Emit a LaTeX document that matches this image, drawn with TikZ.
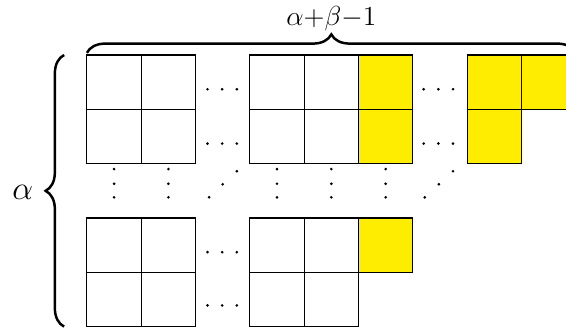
\documentclass[tikz,border=0pt]{standalone}
\usetikzlibrary{decorations.pathreplacing}
\definecolor{boxyellow}{RGB}{255,237,0}

\begin{document}
\begin{tikzpicture}[
    % Style for the plain cells
    cell/.style={
        draw=black,
        line width=0.6pt,
        fill=white
    },
    % Style for the marked (yellow) cells
    hcell/.style={
        cell,
        fill=boxyellow
    },
    % Style for the braces
    brc/.style={
        decorate,
        decoration={brace, amplitude=0.34cm},
        line width=1.3pt
    }
]
\useasboundingbox (-1.60,-5.08) rectangle (8.82,1.013);

% --- White cells ---
\foreach \x in {0,1,3,4}
    \foreach \y in {0,-1,-3,-4}
        \draw[cell] (\x,\y) rectangle ++(1,-1);

% --- Yellow cells ---
\foreach \x/\y in {5/0, 5/-1, 7/0, 7/-1, 8/0, 5/-3}
    \draw[hcell] (\x,\y) rectangle ++(1,-1);

% --- Horizontal dots ---
% top rows: two groups
\foreach \y in {-0.63,-1.63}
    \foreach \x in {2.22,2.49,2.76,6.20,6.47,6.74}
        \fill (\x,\y) circle (0.027);
% bottom rows: one group
\foreach \y in {-3.63,-4.61}
    \foreach \x in {2.22,2.49,2.76}
        \fill (\x,\y) circle (0.027);

% --- Vertical dots ---
\foreach \x in {0.5,1.5,3.5,4.5,5.5}
    \foreach \y in {-2.10,-2.37,-2.62}
        \fill (\x,\y) circle (0.027);

% --- Diagonal dots ---
\foreach \x/\y in {2.25/-2.62, 2.50/-2.38, 2.76/-2.14, 6.22/-2.62, 6.48/-2.38, 6.74/-2.14}
    \fill (\x,\y) circle (0.027);

% --- Braces and their labels ---
\coordinate (topL) at (0,0.04);
\coordinate (topR) at (9,0.04);
\draw[brc] (topL) -- (topR);
\node[anchor=base, font=\Large] (width) at (4.5,0.55) {$\alpha{+}\beta{-}1$};

\coordinate (sideB) at (-0.42,-5);
\coordinate (sideT) at (-0.42,0);
\draw[brc] (sideB) -- (sideT);
\node[font=\LARGE] (height) at (-1.18,-2.52) {$\alpha$};

\end{tikzpicture}
\end{document}
